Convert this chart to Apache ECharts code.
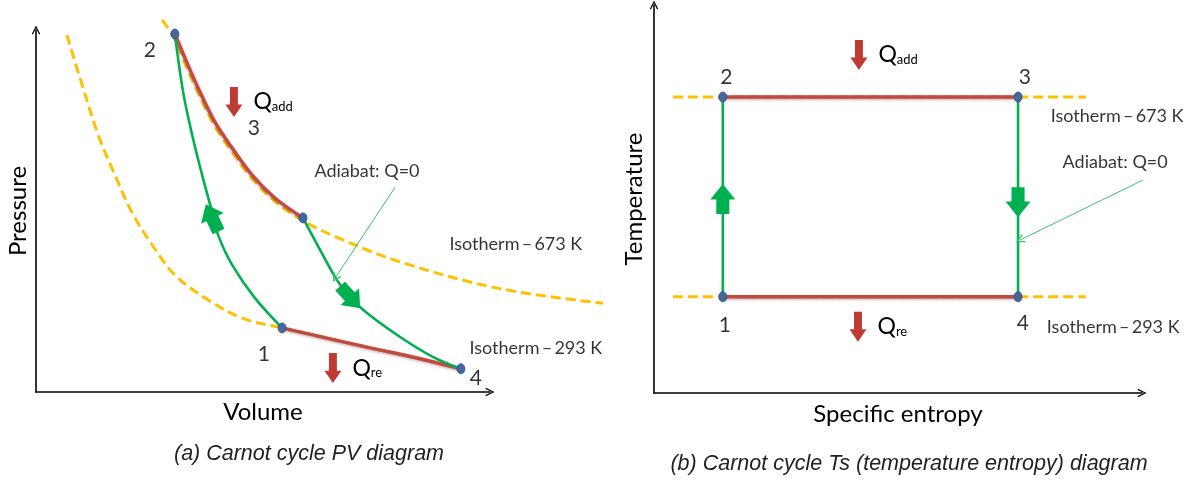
<!DOCTYPE html>
<html><head><meta charset="utf-8">
<script src="https://cdn.jsdelivr.net/npm/echarts@6/dist/echarts.min.js"></script>
<style>html,body{margin:0;padding:0;background:#fff}#c{width:1193px;height:480px}</style>
</head><body><div id="c"></div>
<script>
// ---------- (a) PV diagram data (volume / pressure, arbitrary units) ----------
const pvHighV = [2.78, 3.06, 3.28, 3.57, 3.94, 4.32, 4.76, 5.26, 5.88, 6.54, 8.02, 10.22, 12.49];
const pvHighP = [10.44, 9.89, 9.23, 8.40, 7.46, 6.74, 5.99, 5.36, 4.81, 4.39, 3.65, 2.90, 2.49];
const pvLowV  = [0.68, 1.01, 1.37, 1.74, 2.11, 2.56, 3.06, 3.72, 4.54, 5.42, 5.81, 7.29, 8.39, 9.36];
const pvLowP  = [9.86, 8.51, 7.10, 5.99, 4.97, 4.06, 3.23, 2.60, 2.04, 1.77, 1.66, 1.24, 0.94, 0.64];
const pvComprV = [5.42, 4.82, 4.32, 4.01, 3.88, 3.66, 3.44, 3.24, 3.06];
const pvComprP = [1.77, 2.60, 3.51, 4.34, 4.97, 5.99, 7.10, 8.29, 9.89];
const pvExpV = [5.88, 6.26, 6.63, 6.92, 7.29, 8.02, 8.74, 9.36];
const pvExpP = [4.81, 3.92, 3.09, 2.62, 2.18, 1.52, 0.97, 0.64];
const pvStateV = [5.42, 3.06, 5.88, 9.36];
const pvStateP = [1.77, 9.89, 4.81, 0.64];
const pvFlowV = [3.88, 6.92];
const pvFlowP = [4.81, 2.62];
const pvFlowDir = [25, 222];
const pvHeatV = [4.36, 6.54];
const pvHeatP = [8.01, 0.66];
const pvHeatSub = ['add', 're'];
const pvNumText = ['2', '3', '1', '4'];
const pvNumV = [2.51, 4.80, 5.02, 9.69];
const pvNumP = [9.45, 7.29, 1.05, 0.39];
const pvNoteText = ['Adiabat: Q=0', 'Isotherm\u2009\u2013\u2009673 K', 'Isotherm\u2009\u2013\u2009293 K'];
const pvNoteV = [7.29, 10.57, 11.01];
const pvNoteP = [6.19, 4.14, 1.22];
const pvPointer = [[7.91, 5.66], [6.59, 3.15]];

// ---------- (b) Ts diagram data (entropy arbitrary units / temperature K) ----------
const tsIsoS = [0.39, 8.85];
const tsHighT = [673, 673];
const tsLowT = [293, 293];
const tsStateS = [1.41, 1.41, 7.46, 7.46];
const tsStateT = [293, 673, 673, 293];
const tsFlowS = [1.41, 7.46];
const tsFlowT = [479, 473];
const tsFlowDir = [0, 180];
const tsHeatS = [4.20, 4.18];
const tsHeatT = [753, 236];
const tsHeatSub = ['add', 're'];
const tsNumText = ['2', '3', '1', '4'];
const tsNumS = [1.48, 7.60, 1.45, 7.56];
const tsNumT = [711, 711, 239, 243];
const tsNoteText = ['Isotherm\u2009\u2013\u2009673 K', 'Adiabat: Q=0', 'Isotherm\u2009\u2013\u2009293 K'];
const tsNoteS = [9.49, 9.45, 9.41];
const tsNoteT = [637, 549, 236];
const tsPointer = [[10.02, 515], [7.50, 401]];

// ---------- styling ----------
const GREEN = '#00b050', RED = '#bf4b43', ARROW_RED = '#be3a33', GOLD = '#ffc000', DOT = '#45679e';
const FONT = 'Lato';
const CHEV = 'path://M0,10 L5,0 L10,10 L8.6,10.7 L5,2.9 L1.4,10.7 Z';
const BLOCK_UP = 'path://M10.5,0 L21,14 L16,14 L16,27 L5,27 L5,14 L0,14 Z';
const BLOCK_DOWN = 'path://M4,0 L11,0 L11,17 L15,17 L7.5,29 L0,17 L4,17 Z';

const zip = (a, b) => a.map((v, i) => [v, b[i]]);

function axisCfg(gridIndex, min, max, name, gap) {
  return {
    gridIndex, type: 'value', min, max,
    axisLine: { show: true, onZero: false, symbol: ['none', CHEV], symbolSize: [11, 9],
      lineStyle: { color: '#000', width: 1.6 } },
    axisTick: { show: false }, axisLabel: { show: false }, splitLine: { show: false },
    name, nameLocation: 'middle', nameGap: gap,
    nameTextStyle: { fontSize: 24, color: '#000', fontFamily: FONT }
  };
}
function hiddenAxis(gridIndex, min, max) {
  return { gridIndex, type: 'value', min, max, show: false };
}

function curve(xi, data, color, width, dashed, z) {
  const red = color === RED;
  return {
    type: 'line', xAxisIndex: xi, yAxisIndex: xi, data, smooth: 0.35, showSymbol: false,
    clip: false, silent: true, z,
    lineStyle: dashed
      ? { color, width, type: [10, 5] }
      : { color, width, shadowColor: red ? 'rgba(80,0,0,0.35)' : 'transparent',
          shadowBlur: red ? 3 : 0, shadowOffsetY: red ? 1 : 0 }
  };
}

function dots(xi, xs, ys) {
  return { type: 'scatter', xAxisIndex: xi, yAxisIndex: xi, data: zip(xs, ys), symbol: 'circle',
    symbolSize: [8, 10], itemStyle: { color: DOT, opacity: 1, borderColor: '#2f4f80', borderWidth: 0.8 }, z: 6, silent: true };
}

function flowArrows(xi, xs, ys, dirs) {
  return { type: 'scatter', xAxisIndex: xi, yAxisIndex: xi, symbol: BLOCK_UP, symbolSize: [25, 30],
    data: xs.map((x, i) => ({ value: [x, ys[i]], symbolRotate: dirs[i] })),
    itemStyle: { color: GREEN, opacity: 1 }, z: 7, silent: true };
}

function heatArrows(xi, xs, ys, subs) {
  return { type: 'scatter', xAxisIndex: xi, yAxisIndex: xi, symbol: BLOCK_DOWN, symbolSize: [17, 30],
    data: xs.map((x, i) => ({ value: [x, ys[i]], name: subs[i] })),
    itemStyle: { color: ARROW_RED, opacity: 1 }, z: 7, silent: true,
    label: { show: true, position: 'right', distance: 11,
      formatter: p => '{q|Q}{s|' + p.name + '}',
      rich: { q: { fontSize: 23, fontFamily: FONT, color: '#000', verticalAlign: 'bottom' },
              s: { fontSize: 13, fontFamily: FONT, color: '#000', verticalAlign: 'bottom' } } } };
}

function texts(xi, xs, ys, txt, size) {
  return { type: 'scatter', xAxisIndex: xi, yAxisIndex: xi, symbolSize: 1, clip: false,
    itemStyle: { color: 'rgba(0,0,0,0)' }, silent: true, z: 8,
    data: xs.map((x, i) => ({ value: [x, ys[i]], name: txt[i] })),
    label: { show: true, position: 'inside', formatter: '{b}', fontSize: size, fontFamily: FONT, color: '#000' } };
}

function pointer(xi, coords) {
  return { type: 'lines', coordinateSystem: 'cartesian2d', xAxisIndex: xi, yAxisIndex: xi,
    data: [{ coords }], symbol: ['none', CHEV], symbolSize: [9, 9], silent: true, z: 5,
    lineStyle: { color: '#35c46a', width: 1, opacity: 1, curveness: 0 } };
}

// PV: visible axes on grid 0 (volume 0-10, pressure 0-10);
// grid 2 is the same scale extended (volume 0-13, pressure 0-11) for marks running past the axis arrow.
const PX_V = 45.4, PX_P = 36.2;
const pvHigh = zip(pvHighV, pvHighP), pvLow = zip(pvLowV, pvLowP);
const option = {
  animation: false,
  textStyle: { fontFamily: FONT },
  grid: [
    { left: 36, top: 30, width: PX_V * 10, height: PX_P * 10 },
    { left: 654, top: 5, width: 488, height: 388 },
    { left: 36, top: 30 - PX_P, width: PX_V * 13, height: PX_P * 11 }
  ],
  xAxis: [axisCfg(0, 0, 10, 'Volume', 8), axisCfg(1, 0, 10, 'Specific entropy', 9), hiddenAxis(2, 0, 13)],
  yAxis: [axisCfg(0, 0, 10, 'Pressure', 6), axisCfg(1, 110, 848, 'Temperature', 8), hiddenAxis(2, 0, 11)],
  series: [
    curve(2, pvHigh, GOLD, 3, true, 2),
    curve(0, pvLow, GOLD, 3, true, 2),
    curve(0, pvHigh.slice(1, 9), RED, 3.4, false, 3),
    curve(0, pvLow.slice(9), RED, 3.4, false, 3),
    curve(0, zip(pvComprV, pvComprP), GREEN, 2.6, false, 4),
    curve(0, zip(pvExpV, pvExpP), GREEN, 2.6, false, 4),
    pointer(0, pvPointer),
    dots(0, pvStateV, pvStateP),
    flowArrows(0, pvFlowV, pvFlowP, pvFlowDir),
    heatArrows(0, pvHeatV, pvHeatP, pvHeatSub),
    texts(0, pvNumV, pvNumP, pvNumText, 21),
    texts(2, pvNoteV, pvNoteP, pvNoteText, 18),

    curve(1, zip(tsIsoS, tsHighT), GOLD, 3, true, 2),
    curve(1, zip(tsIsoS, tsLowT), GOLD, 3, true, 2),
    curve(1, [[tsStateS[1], tsStateT[1]], [tsStateS[2], tsStateT[2]]], RED, 3.4, false, 3),
    curve(1, [[tsStateS[0], tsStateT[0]], [tsStateS[3], tsStateT[3]]], RED, 3.4, false, 3),
    curve(1, [[tsStateS[0], tsStateT[0]], [tsStateS[1], tsStateT[1]]], GREEN, 2.6, false, 4),
    curve(1, [[tsStateS[2], tsStateT[2]], [tsStateS[3], tsStateT[3]]], GREEN, 2.6, false, 4),
    pointer(1, tsPointer),
    dots(1, tsStateS, tsStateT),
    flowArrows(1, tsFlowS, tsFlowT, tsFlowDir),
    heatArrows(1, tsHeatS, tsHeatT, tsHeatSub),
    texts(1, tsNumS, tsNumT, tsNumText, 21),
    texts(1, tsNoteS, tsNoteT, tsNoteText, 18)
  ],
  graphic: [
    { type: 'text', x: 309, y: 454, style: { text: '(a) Carnot cycle PV diagram', font: 'italic 21.5px "Liberation Sans"',
      fill: '#222', align: 'center', verticalAlign: 'middle' } },
    { type: 'text', x: 909, y: 464, style: { text: '(b) Carnot cycle Ts (temperature entropy) diagram', font: 'italic 21.5px "Liberation Sans"',
      fill: '#222', align: 'center', verticalAlign: 'middle' } }
  ]
};
const chart = echarts.init(document.getElementById('c'));
chart.setOption(option);
</script></body></html>
